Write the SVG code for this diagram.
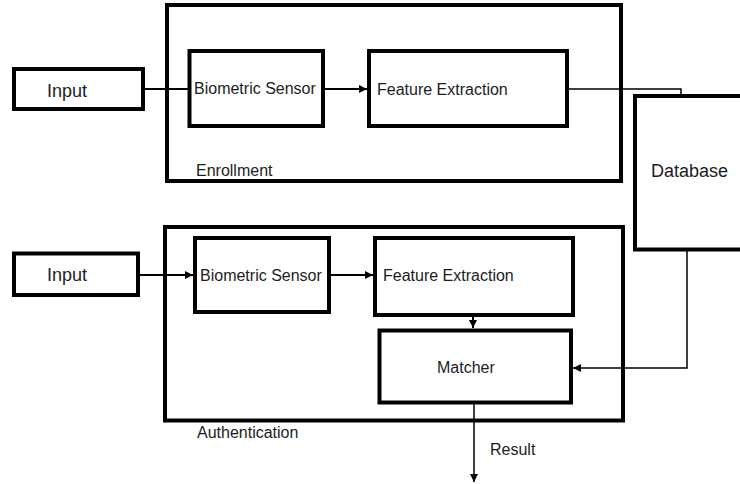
<svg xmlns="http://www.w3.org/2000/svg" width="740" height="484" viewBox="0 0 740 484">
  <defs>
    <marker id="arrow" viewBox="0 0 10 10" refX="10" refY="5" markerWidth="10" markerHeight="8" markerUnits="userSpaceOnUse" orient="auto">
      <path d="M0,0 L10,5 L0,10 z" fill="#000"/>
    </marker>
    <style>
      .box { fill: #fff; stroke: #000; stroke-width: 4; }
      .frame { fill: none; stroke: #000; stroke-width: 4; }
      .wire { fill: none; stroke: #000; stroke-width: 2; }
      .thin { fill: none; stroke: #000; stroke-width: 1.5; }
      text { font-family: "Liberation Sans", Arial, sans-serif; font-size: 16px; fill: #1c1c24; }
      .big { font-size: 18px; }
    </style>
  </defs>
  <rect width="740" height="484" fill="#fff"/>

  <!-- Enrollment stage -->
  <g id="enrollment">
    <rect class="frame" x="167" y="5" width="454" height="176"/>
    <text x="196" y="176" font-size="15.5">Enrollment</text>
  </g>
  <g id="input-enroll">
    <rect class="box" x="14" y="69" width="129" height="40"/>
    <text class="big" x="47" y="97">Input</text>
  </g>
  <g id="sensor-enroll">
    <rect class="box" x="189.5" y="51" width="133.5" height="75"/>
    <text x="194" y="94" font-size="15.5">Biometric Sensor</text>
  </g>
  <g id="extract-enroll">
    <rect class="box" x="369" y="51" width="198" height="75"/>
    <text x="377" y="95">Feature Extraction</text>
  </g>

  <!-- Shared template store -->
  <g id="database">
    <rect class="box" x="635" y="96" width="130" height="153.5"/>
    <text class="big" x="651" y="177" font-size="17.5">Database</text>
  </g>

  <!-- Authentication stage -->
  <g id="authentication">
    <rect class="frame" x="165" y="227" width="458" height="193.5"/>
    <text x="197" y="438" font-size="15">Authentication</text>
  </g>
  <g id="input-auth">
    <rect class="box" x="14" y="253.5" width="124" height="41.5"/>
    <text class="big" x="47" y="281">Input</text>
  </g>
  <g id="sensor-auth">
    <rect class="box" x="195" y="238" width="134" height="74"/>
    <text x="200" y="281" font-size="15.5">Biometric Sensor</text>
  </g>
  <g id="extract-auth">
    <rect class="box" x="375" y="238" width="198" height="77"/>
    <text x="383" y="281">Feature Extraction</text>
  </g>
  <g id="matcher">
    <rect class="box" x="379.5" y="330.5" width="191.5" height="72"/>
    <text x="437" y="373" font-size="15.5">Matcher</text>
  </g>
  <g id="result-label">
    <text x="490" y="455" font-size="15.5">Result</text>
  </g>

  <!-- Connectors -->
  <g id="connectors">
    <line class="wire" x1="145" y1="89" x2="190" y2="89"/>
    <line class="wire" x1="325" y1="89" x2="367" y2="89" marker-end="url(#arrow)"/>
    <polyline class="thin" points="569,89 681,89 681,96"/>
    <line class="wire" x1="140" y1="275" x2="193" y2="275" marker-end="url(#arrow)"/>
    <line class="wire" x1="331" y1="275" x2="373" y2="275" marker-end="url(#arrow)"/>
    <line class="wire" x1="473" y1="317" x2="473" y2="328" marker-end="url(#arrow)"/>
    <polyline class="thin" points="687,251 687,368 573,368" marker-end="url(#arrow)"/>
    <line class="thin" x1="474" y1="404" x2="474" y2="482" marker-end="url(#arrow)"/>
  </g>
</svg>
